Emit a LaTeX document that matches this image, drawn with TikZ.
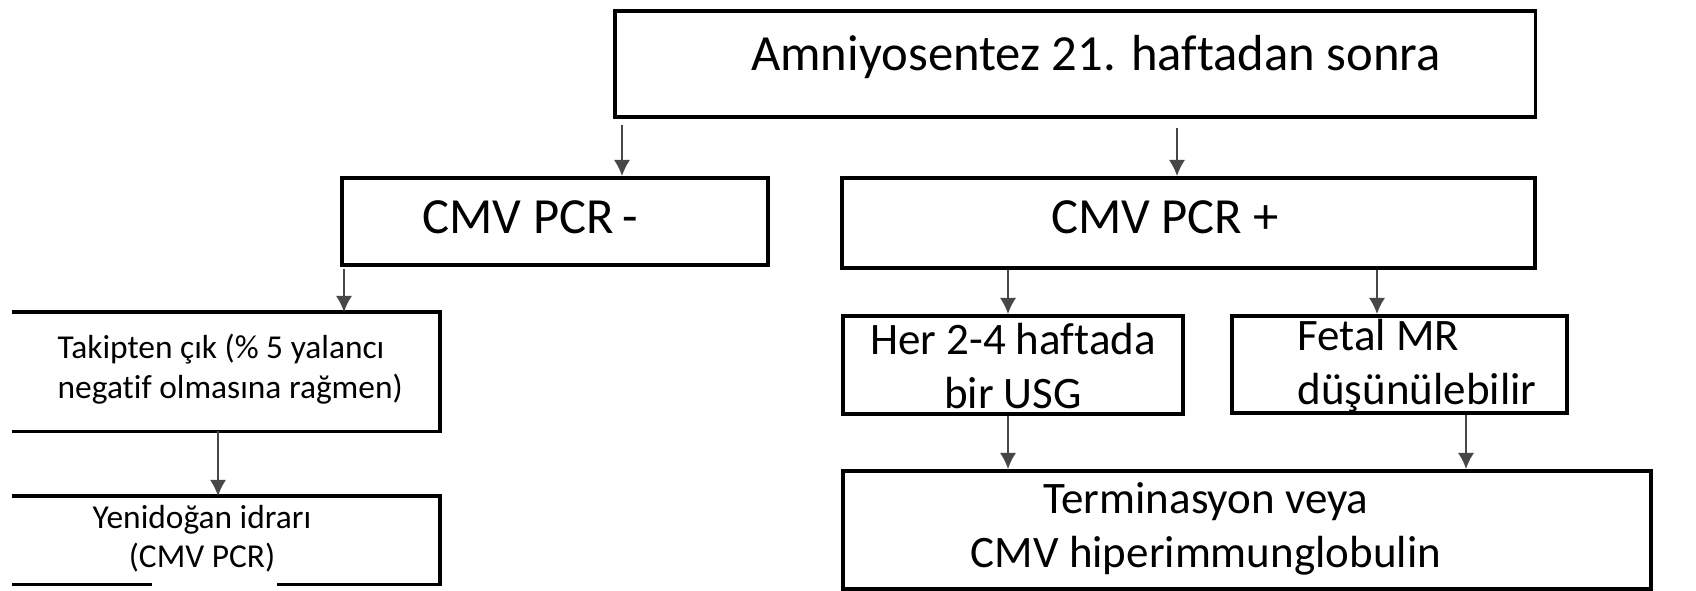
\documentclass[tikz,border=0pt]{standalone}
\usepackage{fontspec}
\setmainfont{Carlito}[Ligatures=NoCommon]
\usetikzlibrary{arrows.meta,calc}

\tikzset{
  box/.style={draw=black, line width=1.1pt, inner sep=0pt, anchor=north west},
  openbox/.style={draw=none, inner sep=0pt, anchor=north west},
  edge/.style={black, line width=1.1pt, line join=miter},
  arr/.style={draw=black!72, line width=0.45pt, -{Latex[length=1.6mm,width=1.6mm]}},
  txt/.style={inner sep=0pt, text=black},
  big/.style={txt, font=\fontsize{14.4}{17}\selectfont},
  mid/.style={txt, font=\fontsize{12.8}{15.4}\selectfont, align=center},
  small/.style={txt, font=\fontsize{9.5}{11.2}\selectfont, align=center},
}

\begin{document}
\begin{tikzpicture}[x=0.01cm, y=-0.01cm]
\useasboundingbox[fill=white] (0,0) rectangle (1696,591);

% boxes
\node[box, minimum width=9.2cm, minimum height=1.06cm] (top) at (613,9) {};
\node[box, minimum width=4.26cm, minimum height=0.87cm] (neg) at (340,176) {};
\node[box, minimum width=6.93cm, minimum height=0.90cm] (pos) at (840,176) {};
\node[openbox, minimum width=4.26cm, minimum height=1.18cm] (tak) at (12,312) {};
\node[openbox, minimum width=4.26cm, minimum height=0.87cm] (yeni) at (12,496) {};
\node[box, minimum width=3.40cm, minimum height=0.98cm] (her) at (841,314) {};
\node[box, minimum width=3.35cm, minimum height=0.97cm] (fetal) at (1230,314) {};
\node[box, minimum width=8.08cm, minimum height=1.18cm] (term) at (841,469) {};

% the two boxes on the left edge have no left side
\draw[edge] (tak.north west) -- (tak.north east) -- (tak.south east) -- (tak.south west);
\draw[edge] (yeni.north west) -- (yeni.north east) -- (yeni.south east) -- ($(yeni.south west)+(265,0)$);
\draw[edge] (yeni.south west) -- ($(yeni.south west)+(140,0)$);

% texts
\node[big] (ttop) at (1096,57) {Amniyosentez 21. haftadan sonra};
\node[big, anchor=west] (tneg) at (422,217) {CMV PCR\hspace{0.09cm}-};
\node[big] (tpos) at (1165,217) {CMV PCR +};
\node[small, align=left, anchor=west] (ttak) at (57,369) {Takipten çık (\% 5 yalancı\\negatif olmasına rağmen)};
\node[small] (tyeni) at (202,539) {Yenidoğan idrarı\\(CMV PCR)};
\node[mid] (ther) at (1013,366) {Her 2-4 haftada\\bir USG};
\node[mid, align=left, anchor=west] (tfetal) at (1297,366) {Fetal MR\\düşünülebilir};
\node[mid] (tterm) at (1206,529) {Terminasyon veya\\CMV hiperimmunglobulin};

% connectors
\draw[arr] ($(top.south west)+(9,6)$) -- ($(neg.north west)+(282,0)$);
\draw[arr] ($(top.south west)+(564,9)$) -- ($(pos.north west)+(337,0)$);
\draw[arr] ($(neg.south west)+(4,2)$) -- ($(tak.north west)+(332,0)$);
\draw[arr] ($(tak.south west)+(206,0)$) -- ($(yeni.north west)+(206,0)$);
\draw[arr] ($(pos.south west)+(168,0)$) -- ($(her.north west)+(167,0)$);
\draw[arr] ($(pos.south west)+(537,0)$) -- ($(fetal.north west)+(147,0)$);
\draw[arr] ($(her.south west)+(167,0)$) -- ($(term.north west)+(167,0)$);
\draw[arr] ($(fetal.south west)+(236,0)$) -- ($(term.north west)+(625,0)$);
\end{tikzpicture}
\end{document}
